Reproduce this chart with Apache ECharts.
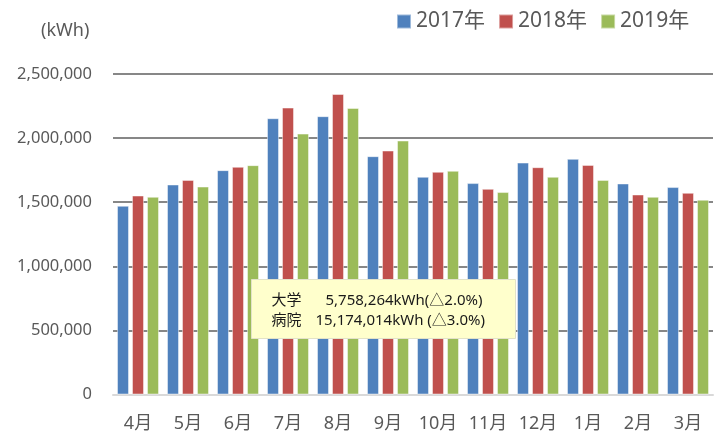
<!DOCTYPE html>
<html>
<head>
<meta charset="utf-8">
<script src="https://cdn.jsdelivr.net/npm/echarts@6/dist/echarts.min.js"></script>
<style>html,body{margin:0;padding:0;background:#fff}#c{width:723px;height:437px}</style>
</head>
<body>
<div id="c"></div>
<script>
var categories = ['4月','5月','6月','7月','8月','9月','10月','11月','12月','1月','2月','3月'];
var seriesNames = ['2017年','2018年','2019年'];
var y2017 = [1472000,1638000,1750000,2155000,2171000,1859000,1698000,1649000,1809000,1838000,1646000,1618000];
var y2018 = [1552000,1674000,1776000,2238000,2344000,1903000,1737000,1604000,1773000,1791000,1560000,1573000];
var y2019 = [1542000,1622000,1789000,2035000,2235000,1981000,1745000,1579000,1698000,1674000,1542000,1519000];
var yMin = 0, yMax = 2500000, yStep = 500000;
var unitLabel = '(kWh)';
var noteLabels = ['大学','病院'];
var noteValues = ['5,758,264kWh(△2.0%)','15,174,014kWh (△3.0%)'];

var FONT = "'Noto Sans','Noto Sans CJK JP',sans-serif";
var colors = ['#4F81BD','#C0504D','#9BBB59'];
var allData = [y2017, y2018, y2019];

var chart = echarts.init(document.getElementById('c'), null, {renderer:'canvas'});
var noteFont = '15px ' + FONT;
chart.setOption({
  animation: false,
  backgroundColor: '#fff',
  title: {
    text: unitLabel, left: 36, top: 17,
    textStyle: {fontFamily: FONT, fontSize: 18, fontWeight: 'normal', color: '#595959'}
  },
  legend: {
    data: seriesNames, left: 391, top: 6,
    icon: 'rect', itemWidth: 14, itemHeight: 14, itemGap: 13,
    textStyle: {fontFamily: FONT, fontSize: 21, color: '#595959'}
  },
  grid: {left: 113, right: 10, top: 74, bottom: 42.5, containLabel: false},
  xAxis: {
    type: 'category', data: categories,
    axisTick: {show: false},
    axisLine: {lineStyle: {color: '#d9d9d9', width: 2}},
    axisLabel: {fontFamily: FONT, fontSize: 18, color: '#595959', margin: 20, interval: 0}
  },
  yAxis: {
    type: 'value', min: yMin, max: yMax, interval: yStep,
    axisLine: {show: false}, axisTick: {show: false},
    splitLine: {lineStyle: {color: '#878787', width: 2}},
    axisLabel: {fontFamily: FONT, fontSize: 16.5, color: '#595959', margin: 21,
      formatter: function(v){ return v.toLocaleString('en-US'); }}
  },
  series: seriesNames.map(function(n, i){
    return {
      name: n, type: 'bar', data: allData[i], barWidth: 12, barGap: '25%',
      itemStyle: {color: colors[i], borderColor: 'rgba(255,255,255,0.45)', borderWidth: 1}
    };
  }),
  graphic: [{
    type: 'group', left: 251, top: 279, z: 100, zlevel: 1,
    children: [
      {type: 'rect', z: 100, zlevel: 1, shape: {x: 0, y: 0, width: 264, height: 59},
        style: {fill: '#FFFFCC', stroke: '#e2e2c8', lineWidth: 1}},
      {type: 'text', z: 101, zlevel: 1, x: 20, y: 21, style: {text: noteLabels[0], font: noteFont, fill: '#1a1a1a', verticalAlign: 'middle'}},
      {type: 'text', z: 101, zlevel: 1, x: 74, y: 21, style: {text: noteValues[0], font: noteFont, fill: '#1a1a1a', verticalAlign: 'middle'}},
      {type: 'text', z: 101, zlevel: 1, x: 20, y: 41, style: {text: noteLabels[1], font: noteFont, fill: '#1a1a1a', verticalAlign: 'middle'}},
      {type: 'text', z: 101, zlevel: 1, x: 64, y: 41, style: {text: noteValues[1], font: noteFont, fill: '#1a1a1a', verticalAlign: 'middle'}}
    ]
  }]
});
</script>
</body>
</html>
